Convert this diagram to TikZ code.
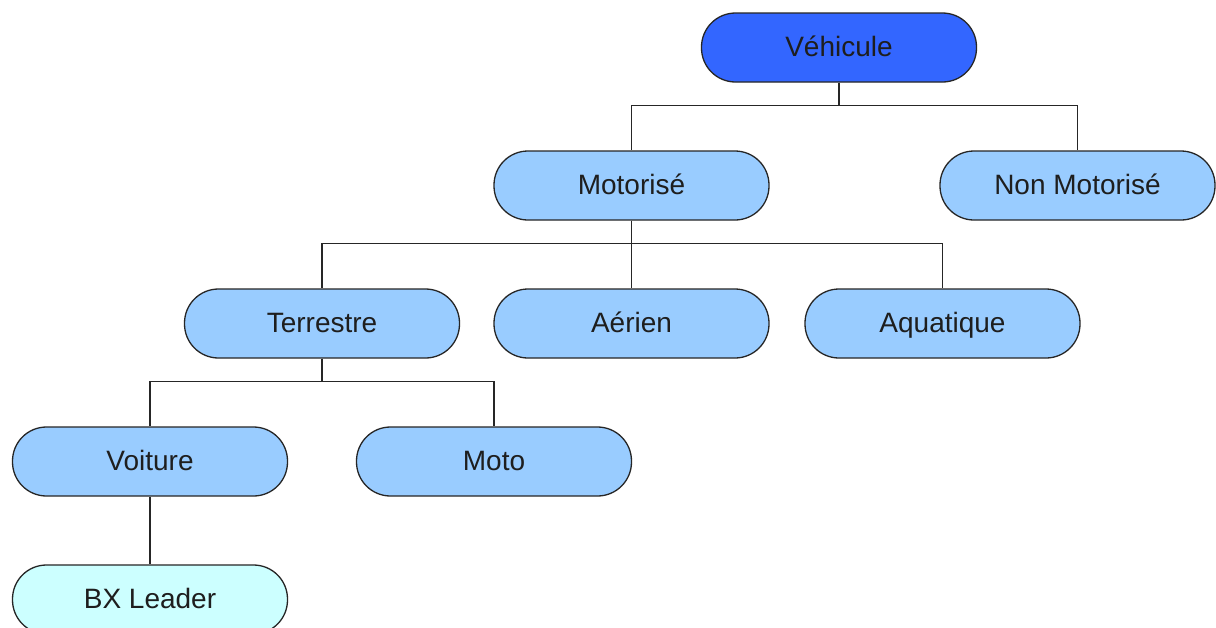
\documentclass[tikz,border=0pt]{standalone}
\usepackage{fontspec}
\setmainfont{Liberation Sans}
\definecolor{rootblue}{HTML}{3366FF}
\definecolor{nodeblue}{HTML}{99CCFF}
\definecolor{leafcyan}{HTML}{CCFFFF}
\definecolor{txt}{HTML}{1E1E1E}
\begin{document}
\begin{tikzpicture}[x=1pt,y=-1pt,
  box/.style={draw=black!85, line width=1.3pt, rounded corners=34pt,
    minimum width=275pt, minimum height=69pt, inner sep=0pt,
    text height=20pt, text depth=3pt,
    fill=nodeblue, text=txt, font=\fontsize{28}{34}\selectfont},
  link/.style={draw=black!85, line width=1.3pt}]
\clip (0,0) rectangle (1216,627);
\fill[white] (0,0) rectangle (1216,627);
\node[box, fill=rootblue] (veh) at (839,47.5) {Véhicule};
\node[box] (mot) at (631.5,185.5) {Motorisé};
\node[box] (nmot) at (1077.5,185.5) {Non Motorisé};
\node[box] (ter) at (322,323.5) {Terrestre};
\node[box] (aer) at (631.5,323.5) {Aérien};
\node[box] (aqu) at (942.5,323.5) {Aquatique};
\node[box] (voi) at (150,461.5) {Voiture};
\node[box] (mto) at (494,461.5) {Moto};
\node[box, fill=leafcyan] (bx) at (150,599.5) {BX Leader};
\draw[link] (veh.south) -- ++(0,23) -| (mot.north);
\draw[link] (veh.south) -- ++(0,23) -| (nmot.north);
\draw[link] (mot.south) -- ++(0,23) -| (ter.north);
\draw[link] (mot.south) -- (aer.north);
\draw[link] (mot.south) -- ++(0,23) -| (aqu.north);
\draw[link] (ter.south) -- ++(0,23) -| (voi.north);
\draw[link] (ter.south) -- ++(0,23) -| (mto.north);
\draw[link] (voi.south) -- (bx.north);
\end{tikzpicture}
\end{document}
